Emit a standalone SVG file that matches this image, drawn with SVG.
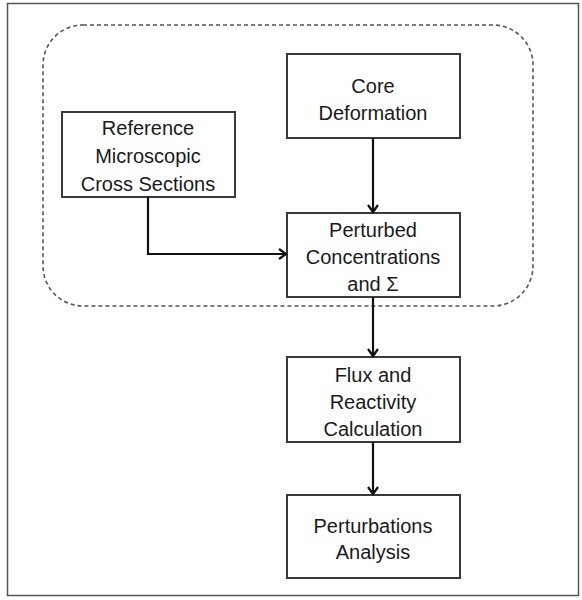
<svg xmlns="http://www.w3.org/2000/svg" width="582" height="600" viewBox="0 0 582 600">
<style>
.box{fill:#fff;stroke:#3a3a3a;stroke-width:2}
.t{font-family:"Liberation Sans",Arial,sans-serif;font-size:20px;fill:#1a1a1a;text-anchor:middle}
.c{fill:none;stroke:#111;stroke-width:2.2}
</style>
<defs>
<marker id="ah" markerWidth="12" markerHeight="12" refX="10" refY="6" orient="auto" markerUnits="userSpaceOnUse">
<path d="M3,1 L10,6 L3,11" fill="none" stroke="#111" stroke-width="2.2"/>
</marker>
</defs>
<rect x="0" y="0" width="582" height="600" fill="#fff"/>
<rect x="7.5" y="3.5" width="571" height="592" fill="none" stroke="#555" stroke-width="1.5"/>
<rect id="group" x="43" y="25" width="490" height="281" rx="40" ry="40" fill="none" stroke="#555" stroke-width="1.6" stroke-dasharray="4,3"/>
<g id="core"><rect class="box" x="287" y="54" width="173" height="84"/>
<text class="t" x="373" y="93">Core</text><text class="t" x="373" y="120">Deformation</text></g>
<g id="reference"><rect class="box" x="62" y="112" width="173" height="85"/>
<text class="t" x="148" y="135">Reference</text><text class="t" x="148" y="163">Microscopic</text><text class="t" x="148" y="191">Cross Sections</text></g>
<g id="perturbed"><rect class="box" x="287" y="213" width="173" height="84"/>
<text class="t" x="373" y="237">Perturbed</text><text class="t" x="373" y="264">Concentrations</text><text class="t" x="373" y="291">and Σ</text></g>
<g id="flux"><rect class="box" x="287" y="357" width="173" height="85"/>
<text class="t" x="373" y="382">Flux and</text><text class="t" x="373" y="409">Reactivity</text><text class="t" x="373" y="436">Calculation</text></g>
<g id="analysis"><rect class="box" x="287" y="495" width="173" height="83"/>
<text class="t" x="373" y="533">Perturbations</text><text class="t" x="373" y="559">Analysis</text></g>
<g id="connectors">
<path class="c" d="M373,138 V212" marker-end="url(#ah)"/>
<path class="c" d="M148,197 V254 H286" marker-end="url(#ah)"/>
<path class="c" d="M373,297 V356" marker-end="url(#ah)"/>
<path class="c" d="M373,442 V494" marker-end="url(#ah)"/>
</g>
</svg>
